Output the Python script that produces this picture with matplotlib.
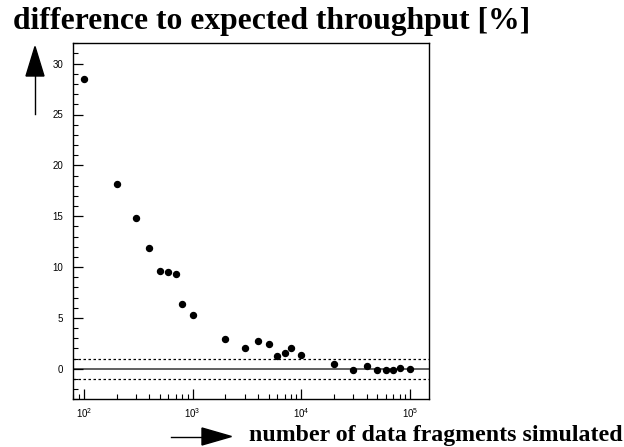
import matplotlib
matplotlib.use("Agg")
import matplotlib.pyplot as plt
import matplotlib.ticker as mticker
from matplotlib.transforms import IdentityTransform
from matplotlib.patches import Polygon
from matplotlib.lines import Line2D

# ---- data ----
n_fragments = [100, 200, 300, 400, 500, 600, 700, 800, 1000,
               2000, 3000, 4000, 5000, 6000, 7000, 8000, 10000,
               20000, 30000, 40000, 50000, 60000, 70000, 80000, 100000]
difference = [28.5, 18.2, 14.8, 11.9, 9.65, 9.5, 9.3, 6.4, 5.3,
              2.95, 2.05, 2.7, 2.4, 1.25, 1.6, 2.05, 1.35,
              0.45, -0.1, 0.25, -0.15, -0.15, -0.15, 0.1, 0.0]
band = [-1.0, 1.0]
title_text = "difference to expected throughput [%]"
xlabel_text = "number of data fragments simulated"

plt.rcParams['mathtext.fontset'] = 'custom'
plt.rcParams['mathtext.rm'] = 'Liberation Sans'
plt.rcParams['mathtext.it'] = 'Liberation Sans'

W, H = 624, 447
fig = plt.figure(figsize=(W / 100, H / 100), dpi=100)
ax = fig.add_axes([72.7 / W, 1 - 399.3 / H, (429.3 - 72.7) / W, (399.3 - 43.3) / H])

ax.set_xscale('log')
ax.set_xlim(79, 150000)
ax.set_ylim(-3, 32)

ax.axhline(0, color='#555555', lw=1.3, zorder=1)
for b in band:
    ax.axhline(b, color='black', lw=0.9, ls=(0, (2, 2)), zorder=1)

ax.plot(n_fragments, difference, 'o', color='black', ms=4.3, zorder=3)

for s in ax.spines.values():
    s.set_linewidth(1.0)

ax.yaxis.set_major_locator(mticker.MultipleLocator(5))
ax.yaxis.set_minor_locator(mticker.MultipleLocator(1))
ax.xaxis.set_major_locator(mticker.LogLocator(base=10))
ax.xaxis.set_minor_locator(mticker.LogLocator(base=10, subs=range(2, 10)))
ax.xaxis.set_minor_formatter(mticker.NullFormatter())

ax.tick_params(axis='both', which='major', direction='in', length=7, width=0.9,
               labelsize=7, top=False, right=False)
ax.tick_params(axis='both', which='minor', direction='in', length=3.5, width=0.8,
               top=False, right=False)
ax.tick_params(axis='y', pad=7)
ax.tick_params(axis='x', pad=5)
for lab in ax.get_yticklabels() + ax.get_xticklabels():
    lab.set_family('Liberation Sans')

# title and x label as figure text
t = fig.text(12.7 / W, 1 - 29 / H, title_text, family='Liberation Serif',
             weight='bold', fontsize=24, ha='left', va='baseline')
xl = fig.text(249 / W, 1 - 440.5 / H, xlabel_text, family='Liberation Serif',
              weight='bold', fontsize=19, ha='left', va='baseline')

fig.canvas.draw()
r = fig.canvas.get_renderer()
for txt, target in ((t, 518.0), (xl, 372.0)):
    w = txt.get_window_extent(r).width
    txt.set_fontsize(txt.get_fontsize() * target / w)

# arrows in pixel coordinates (display coords)
def py(y):
    return H - y

tr = IdentityTransform()
# vertical arrow
fig.add_artist(Line2D([35, 35], [py(114), py(75)], color='black', lw=1.0, transform=tr))
fig.add_artist(Polygon([[26, py(76)], [44, py(76)], [35, py(46.5)]], closed=True,
                       color='black', transform=tr))
# horizontal arrow
ya = 436.5
fig.add_artist(Line2D([170.5, 203], [py(ya), py(ya)], color='black', lw=1.0, transform=tr))
fig.add_artist(Polygon([[202, py(ya - 8.5)], [202, py(ya + 8.5)], [231.5, py(ya)]], closed=True,
                       color='black', transform=tr))

fig.savefig('out.png', dpi=100)
